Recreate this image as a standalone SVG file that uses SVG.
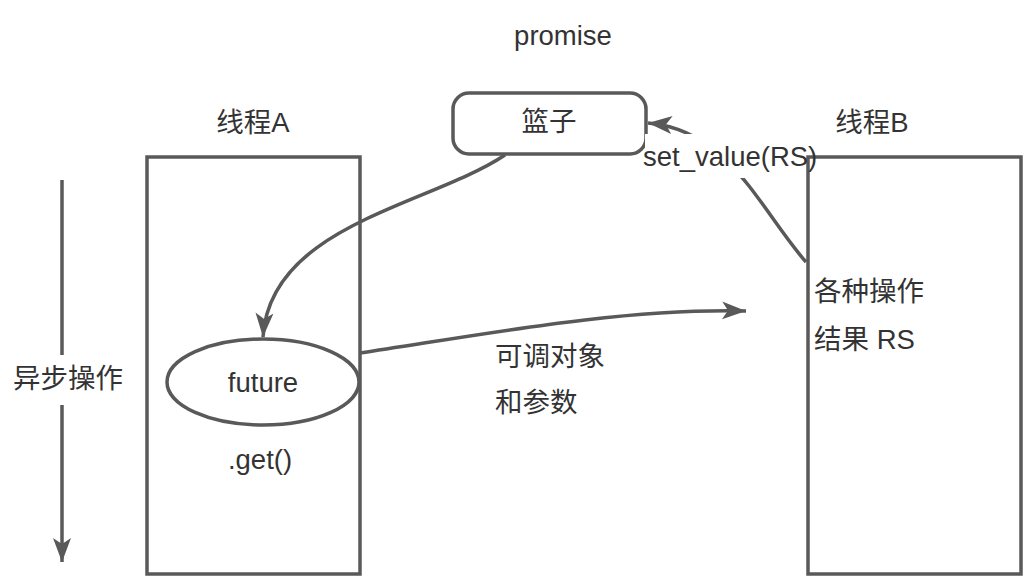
<svg xmlns="http://www.w3.org/2000/svg" width="1034" height="580" viewBox="0 0 1034 580">
<defs>
<style>
.s{fill:none;stroke:#595959;stroke-width:3.5}
.nb{fill:#fff;stroke:#595959;stroke-width:3.5}
.t{font-family:"Liberation Sans","Noto Sans CJK SC",sans-serif;font-size:27.5px;fill:#333}
.m{text-anchor:middle}
</style>
<marker id="ah" markerUnits="userSpaceOnUse" markerWidth="26" markerHeight="20" refX="24" refY="10" orient="auto">
<path d="M0,1 L24,10 L0,19 L6,10 Z" fill="#595959"/>
</marker>
</defs>
<rect width="1034" height="580" fill="#fff"/>
<g id="threadA">
<rect class="nb" x="147" y="157" width="213" height="417"/>
<text class="t m" x="253" y="132">线程A</text>
</g>
<g id="threadB">
<rect class="nb" x="808" y="157" width="213" height="417"/>
<text class="t m" x="872" y="132">线程B</text>
<text class="t" x="814" y="301">各种操作</text>
<text class="t" x="814" y="349">结果 RS</text>
</g>
<g id="basket">
<rect class="nb" x="453" y="93" width="193" height="61" rx="16"/>
<text class="t m" x="549" y="131">篮子</text>
</g>
<g id="promise">
<text class="t m" x="563" y="45">promise</text>
</g>
<g id="future">
<ellipse class="nb" cx="263" cy="382" rx="96" ry="43"/>
<text class="t m" x="263" y="392">future</text>
<text class="t m" x="260" y="469">.get()</text>
</g>
<g id="connectors">
<path class="s" d="M505,155 C430,205 270,225 263,337" marker-end="url(#ah)"/>
<path class="s" d="M360,353 C480,335 620,308 746,311" marker-end="url(#ah)"/>
<path class="s" d="M806,262 C760,210 730,130 648,123" marker-end="url(#ah)"/>
<path class="s" d="M62,180 L62,355"/>
<path class="s" d="M62,405 L62,562" marker-end="url(#ah)"/>
</g>
<g id="labels">
<rect x="645" y="134" width="160" height="44" fill="#fff"/>
<text class="t" x="643" y="166">set_value(RS)</text>
<text class="t m" x="68" y="388">异步操作</text>
<text class="t" x="495" y="366">可调对象</text>
<text class="t" x="495" y="412">和参数</text>
</g>
</svg>
